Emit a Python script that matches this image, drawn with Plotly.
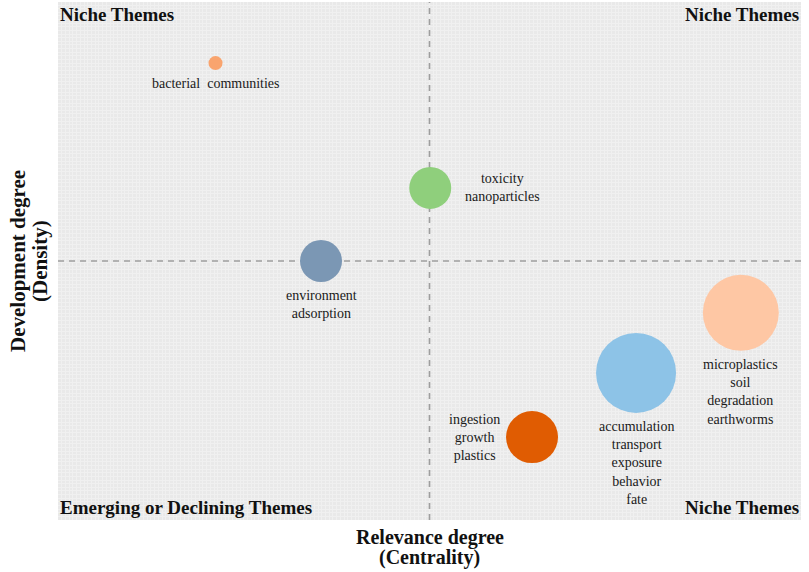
import plotly.graph_objects as go

# Thematic map: each cluster is a bubble (centrality vs density, size = frequency)
themes = [
    "bacterial  communities",
    "toxicity<br>nanoparticles",
    "environment<br>adsorption",
    "ingestion<br>growth<br>plastics",
    "accumulation<br>transport<br>exposure<br>behavior<br>fate",
    "microplastics<br>soil<br>degradation<br>earthworms",
]
centrality = [0.212, 0.501, 0.354, 0.638, 0.778, 0.919]
density = [0.882, 0.641, 0.500, 0.160, 0.284, 0.400]
bubble_size = [14, 42, 42, 52, 80, 76]
colors = ["#F9A46E", "#8FCF7C", "#7B97B4", "#E05C02", "#8DC3E7", "#FEC7A4"]
label_side = ["below", "right", "below", "left", "below", "below"]

x_mid = 0.5
y_mid = 0.5

serif = "Liberation Serif, Times New Roman, serif"
dash_line = dict(color="#9e9e9e", width=1.6, dash="6px,5px")

fig = go.Figure()

# dashed quadrant dividers, drawn first so the bubbles sit on top
fig.add_trace(go.Scatter(x=[x_mid, x_mid], y=[0, 1], mode="lines", line=dash_line,
                         hoverinfo="skip", showlegend=False))
fig.add_trace(go.Scatter(x=[0, 1], y=[y_mid, y_mid], mode="lines", line=dash_line,
                         hoverinfo="skip", showlegend=False))

fig.add_trace(go.Scatter(
    x=centrality, y=density, mode="markers",
    marker=dict(size=bubble_size, color=colors, opacity=1, line=dict(width=0)),
    hoverinfo="skip", showlegend=False,
))

# bubble labels
for name, x, y, s, side in zip(themes, centrality, density, bubble_size, label_side):
    r = s / 2
    if side == "below":
        kw = dict(xanchor="center", yanchor="top", yshift=-(r + 4))
    elif side == "right":
        kw = dict(xanchor="left", yanchor="middle", xshift=r + 12)
    else:
        kw = dict(xanchor="right", yanchor="middle", xshift=-(r + 4))
    fig.add_annotation(x=x, y=y, text=name, showarrow=False, align="center",
                       font=dict(family=serif, size=14, color="#1a1a1a"), **kw)

# quadrant captions
quad = [
    ("Niche Themes", 0, 1, "left", "top"),
    ("Niche Themes", 1, 1, "right", "top"),
    ("Emerging or Declining Themes", 0, 0, "left", "bottom"),
    ("Niche Themes", 1, 0, "right", "bottom"),
]
for txt, qx, qy, xa, ya in quad:
    fig.add_annotation(x=qx, y=qy, xref="paper", yref="paper", text=f"<b>{txt}</b>",
                       showarrow=False, xanchor=xa, yanchor=ya,
                       font=dict(family=serif, size=19, color="#111111"))

# axis titles, one annotation per line to keep the tight line spacing
title_font = dict(family=serif, size=20, color="#111111")
for txt, dy in [("Relevance degree", -17), ("(Centrality)", -37)]:
    fig.add_annotation(x=0.5, y=0, xref="paper", yref="paper", text=f"<b>{txt}</b>",
                       showarrow=False, xanchor="center", yanchor="middle", yshift=dy,
                       font=title_font)
for txt, dx in [("Development degree", -40), ("(Density)", -18)]:
    fig.add_annotation(x=0, y=0.5, xref="paper", yref="paper", text=f"<b>{txt}</b>",
                       showarrow=False, xanchor="center", yanchor="middle", xshift=dx,
                       textangle=-90, font=dict(family=serif, size=21, color="#111111"))

fig.update_layout(
    width=809, height=572,
    margin=dict(l=58, r=8, t=2, b=52),
    paper_bgcolor="white",
    plot_bgcolor="#e9e9e9",
    xaxis=dict(
        range=[0, 1], showticklabels=False, ticks="", zeroline=False,
        showgrid=True, gridcolor="#f0f0f0", gridwidth=1, dtick=0.005,
    ),
    yaxis=dict(
        range=[0, 1], showticklabels=False, ticks="", zeroline=False,
        showgrid=True, gridcolor="#f0f0f0", gridwidth=1, dtick=0.007,
    ),
)

fig.write_html("out.html", config={"displayModeBar": False},
               post_script="document.body.style.margin='0';")
